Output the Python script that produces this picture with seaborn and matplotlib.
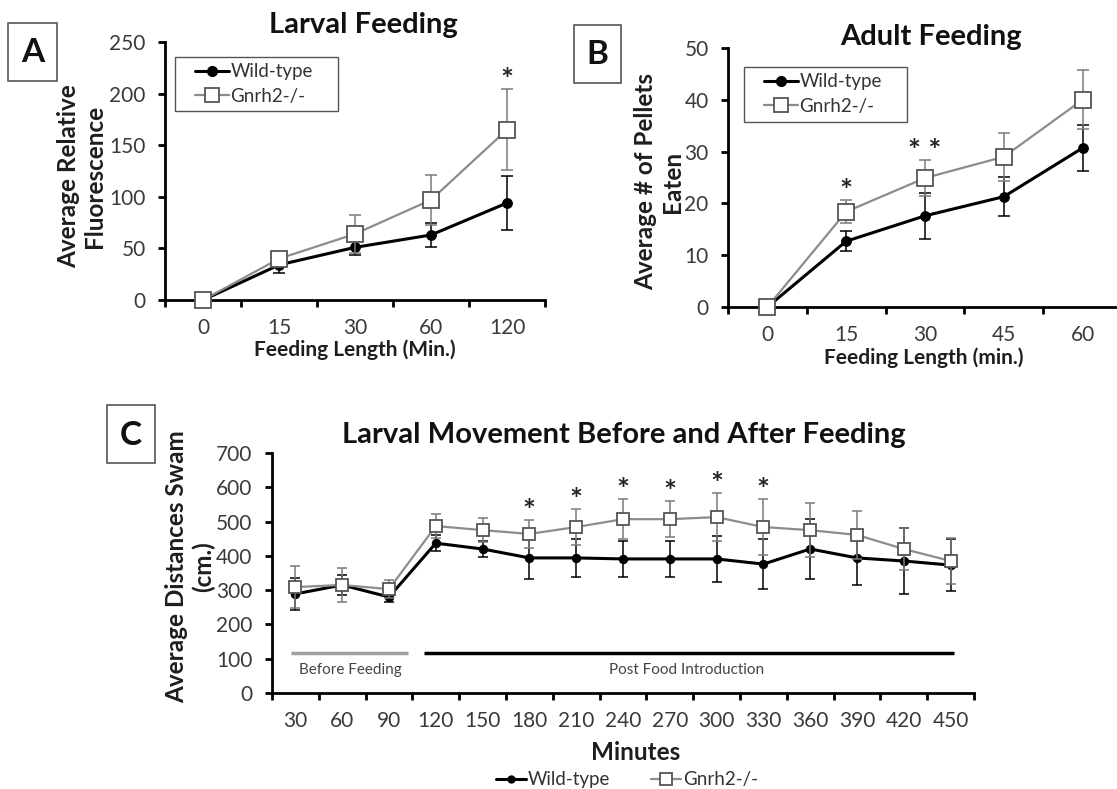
import numpy as np
import pandas as pd
import matplotlib
matplotlib.use("Agg")
import matplotlib.pyplot as plt
from matplotlib.lines import Line2D
from matplotlib.patches import Rectangle
import seaborn as sns

# ---------------- data ----------------
# A: larval feeding, average relative fluorescence
larval_minutes = ["0", "15", "30", "60", "120"]
larval_wt = [0, 34, 51, 63, 94]
larval_wt_err = [0, 8, 7, 12, 26]
larval_ko = [0, 40, 64, 97, 165]
larval_ko_err = [0, 5, 18, 24, 39]
larval_stars = ["", "", "", "", "*"]

# B: adult feeding, average number of pellets eaten
adult_minutes = ["0", "15", "30", "45", "60"]
adult_wt = [0, 12.7, 17.6, 21.3, 30.7]
adult_wt_err = [0, 1.9, 4.4, 3.8, 4.4]
adult_ko = [0, 18.4, 24.9, 29.0, 40.0]
adult_ko_err = [0, 2.2, 3.5, 4.6, 5.7]
adult_stars = ["", "*", "* *", "", ""]

# C: larval movement before and after feeding, distance swam (cm)
move_minutes = ["30", "60", "90", "120", "150", "180", "210", "240",
                "270", "300", "330", "360", "390", "420", "450"]
move_wt = [289, 315, 280, 437, 420, 394, 394, 391, 391, 391, 376, 420, 394, 385, 373]
move_wt_err = [47, 30, 15, 23, 23, 62, 56, 53, 53, 67, 73, 88, 79, 96, 76]
move_ko = [309, 315, 303, 487, 475, 464, 484, 507, 507, 513, 484, 475, 461, 420, 385]
move_ko_err = [61, 50, 27, 35, 35, 40, 52, 59, 53, 70, 82, 79, 70, 61, 67]
move_stars = ["", "", "", "", "", "*", "*", "*", "*", "*", "*", "", "", "", ""]

series_names = ["Wild-type", "Gnrh2-/-"]

# ---------------- style ----------------
sns.set_theme(style="white")
plt.rcParams["font.family"] = ["Lato", "DejaVu Sans"]

WT_COLOR = "black"
KO_LINE = "#8c8c8c"
KO_EDGE = "#555555"
KO_ERR = "#7a7a7a"
TICK_COLOR = "#3a3a3a"
LABEL_COLOR = "#1e1e1e"

TITLE_SIZE = 21
YLABEL_SIZE = 17.5
TICK_SIZE = 15
LEGEND_SIZE = 13.5
STAR_SIZE = 22

W, H = 1117, 789
fig = plt.figure(figsize=(W / 100, H / 100), dpi=100)
fig.patch.set_facecolor("white")


def axes_px(left, right, top, bottom):
    return fig.add_axes([left / W, 1 - bottom / H, (right - left) / W, (bottom - top) / H])


def text_px(x, y, s, **kw):
    return fig.text(x / W, 1 - y / H, s, **kw)


def frame_px(x0, x1, y0, y1, color="#555555", lw=1.2):
    fig.patches.append(Rectangle((x0 / W, 1 - y1 / H), (x1 - x0) / W, (y1 - y0) / H,
                                 transform=fig.transFigure, fill=False,
                                 edgecolor=color, lw=lw))


def panel_box(x0, x1, y0, y1, letter):
    frame_px(x0, x1, y0, y1)
    text_px((x0 + x1) / 2, (y0 + y1) / 2 + 1, letter, ha="center", va="center",
            fontsize=24, fontweight="bold", color="#111111")


def draw_series(ax, wt, wt_err, ko, ko_err, ms_wt, ms_ko, cap):
    pos = np.arange(len(wt))
    frame = pd.DataFrame({"pos": pos, "wt": wt, "ko": ko})
    ax.errorbar(pos, wt, yerr=wt_err, fmt="none", ecolor=WT_COLOR, elinewidth=1.1,
                capsize=cap, capthick=1.1, zorder=2)
    sns.lineplot(data=frame, x="pos", y="wt", color=WT_COLOR, lw=2.2, marker="o",
                 markersize=ms_wt, markerfacecolor=WT_COLOR, markeredgecolor=WT_COLOR,
                 ax=ax, zorder=3, clip_on=False)
    ax.errorbar(pos, ko, yerr=ko_err, fmt="none", ecolor=KO_ERR, elinewidth=1.1,
                capsize=cap, capthick=1.1, zorder=4)
    sns.lineplot(data=frame, x="pos", y="ko", color=KO_LINE, lw=1.6, marker="s",
                 markersize=ms_ko, markerfacecolor="white", markeredgecolor=KO_EDGE,
                 markeredgewidth=1.3, ax=ax, zorder=5, clip_on=False)


def draw_stars(ax, ko, ko_err, stars):
    # significance marks sit just above the mutant error bar
    for i, s in enumerate(stars):
        if s:
            ax.annotate(s, (i, ko[i] + ko_err[i]), xytext=(0, 6),
                        textcoords="offset points", ha="center", va="center",
                        fontsize=STAR_SIZE, fontweight="bold", color="#222222")


def style_axis(ax, labels, ymax, ystep):
    n = len(labels)
    ax.set_xlim(-0.5, n - 0.5)
    ax.set_ylim(0, ymax)
    ax.set_yticks(np.arange(0, ymax + ystep / 2, ystep))
    ax.set_xticks(np.arange(n))
    ax.set_xticklabels(labels)
    ax.set_xticks(np.arange(-0.5, n), minor=True)
    ax.tick_params(axis="x", which="major", length=0, pad=13, labelsize=TICK_SIZE,
                   labelcolor=TICK_COLOR)
    ax.tick_params(axis="x", which="minor", length=5, width=2, direction="out",
                   color="black", bottom=True)
    ax.tick_params(axis="y", length=5, width=2, direction="out", pad=9,
                   labelsize=TICK_SIZE, labelcolor=TICK_COLOR, color="black", left=True)
    for side in ("top", "right"):
        ax.spines[side].set_visible(False)
    for side in ("left", "bottom"):
        ax.spines[side].set_linewidth(2)
        ax.spines[side].set_color("black")
    ax.set_xlabel("")
    ax.set_ylabel("")
    ax.set_facecolor("none")
    ax.grid(False)


def legend_handles(ms_wt, ms_ko):
    return [
        Line2D([], [], color=WT_COLOR, lw=2.2, marker="o", markersize=ms_wt,
               markerfacecolor=WT_COLOR, markeredgecolor=WT_COLOR),
        Line2D([], [], color=KO_LINE, lw=1.6, marker="s", markersize=ms_ko,
               markerfacecolor="white", markeredgecolor=KO_EDGE, markeredgewidth=1.3),
    ]


def boxed_legend(ax, box, handle_x, center_y):
    x0, x1, y0, y1 = box
    frame_px(x0, x1, y0, y1, color="#555555", lw=1.0)
    leg = ax.legend(legend_handles(7, 10), series_names, loc="center left",
                    bbox_to_anchor=(handle_x / W, 1 - center_y / H),
                    bbox_transform=fig.transFigure, frameon=False,
                    fontsize=LEGEND_SIZE, handlelength=1.8, handletextpad=0.1,
                    borderaxespad=0, borderpad=0, labelspacing=0.4)
    for t in leg.get_texts():
        t.set_color("#333333")


# ---------------- panel A ----------------
axA = axes_px(165, 545, 42, 300)
draw_series(axA, larval_wt, larval_wt_err, larval_ko, larval_ko_err, 7, 11, 4.5)
style_axis(axA, larval_minutes, 250, 50)
draw_stars(axA, larval_ko, larval_ko_err, larval_stars)
boxed_legend(axA, (175, 338, 57, 111), 195, 84)
text_px(363, 25, "Larval Feeding", ha="center", va="center", fontsize=TITLE_SIZE,
        fontweight="bold", color="#111111")
text_px(355, 350, "Feeding Length (Min.)", ha="center", va="center", fontsize=15,
        fontweight="bold", color=LABEL_COLOR)
text_px(82, 176, "Average Relative\nFluorescence", ha="center", va="center",
        rotation=90, multialignment="center", fontsize=YLABEL_SIZE, fontweight="bold",
        linespacing=1.15, color=LABEL_COLOR)
panel_box(8, 57, 23, 81, "A")

# ---------------- panel B ----------------
axB = axes_px(728, 1122, 48, 307)
draw_series(axB, adult_wt, adult_wt_err, adult_ko, adult_ko_err, 7, 11, 4.5)
style_axis(axB, adult_minutes, 50, 10)
draw_stars(axB, adult_ko, adult_ko_err, adult_stars)
boxed_legend(axB, (744, 907, 67, 122), 764, 94)
text_px(931, 37, "Adult Feeding", ha="center", va="center", fontsize=TITLE_SIZE,
        fontweight="bold", color="#111111")
text_px(924, 358, "Feeding Length (min.)", ha="center", va="center", fontsize=15,
        fontweight="bold", color=LABEL_COLOR)
text_px(659, 182, "Average # of Pellets\nEaten", ha="center", va="center",
        rotation=90, multialignment="center", fontsize=YLABEL_SIZE, fontweight="bold",
        linespacing=1.2, color=LABEL_COLOR)
panel_box(574, 621, 25, 83, "B")

# ---------------- panel C ----------------
axC = axes_px(272, 974, 453, 693)
draw_series(axC, move_wt, move_wt_err, move_ko, move_ko_err, 6, 9, 3.5)
style_axis(axC, move_minutes, 700, 100)
draw_stars(axC, move_ko, move_ko_err, move_stars)

# phase bars under the curves
axC.plot([-0.1, 2.4], [117, 117], color="#a0a0a0", lw=2.5, solid_capstyle="butt")
axC.plot([2.74, 14.08], [117, 117], color="black", lw=2.5, solid_capstyle="butt")
axC.text(1.17, 67, "Before Feeding", ha="center", va="center", fontsize=11,
         color="#444444")
axC.text(8.35, 67, "Post Food Introduction", ha="center", va="center", fontsize=11,
         color="#444444")

text_px(624, 435, "Larval Movement Before and After Feeding", ha="center",
        va="center", fontsize=TITLE_SIZE, fontweight="bold", color="#111111")
text_px(636, 752, "Minutes", ha="center", va="center", fontsize=17.5,
        fontweight="bold", color=LABEL_COLOR)
text_px(190, 567, "Average Distances Swam\n(cm.)", ha="center", va="center",
        rotation=90, multialignment="center", fontsize=YLABEL_SIZE, fontweight="bold",
        linespacing=1.2, color=LABEL_COLOR)
panel_box(107, 155, 405, 463, "C")

legC = fig.legend(legend_handles(5, 8), series_names, loc="center",
                  bbox_to_anchor=(627 / W, 1 - 780 / H), ncol=2, frameon=False,
                  fontsize=LEGEND_SIZE, handlelength=1.6, handletextpad=0.1,
                  columnspacing=2.2)
for t in legC.get_texts():
    t.set_color("#333333")

fig.savefig("out.png", dpi=100, facecolor="white")
